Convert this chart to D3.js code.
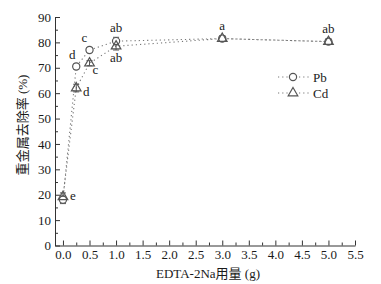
<!DOCTYPE html>
<html>
<head>
<meta charset="utf-8">
<script src="https://cdn.jsdelivr.net/npm/d3@7"></script>
<style>
body{margin:0;background:#fff;}
text{font-family:"Liberation Serif","DejaVu Serif",serif;fill:#1a1a1a;}
.cjk{font-family:"Liberation Serif","Noto Sans CJK SC",serif;}
</style>
</head>
<body>
<div id="graph"></div>
<script>
// data
var doses=[0,0.25,0.5,1,3,5];
var pb=[18,70.5,77,80.5,81.5,80.3];
var cd=[19.2,62,71.8,78.5,81.5,80.3];
var pb_err=[1.5,1,1,1.5,1,1];
var cd_err=[1.5,1.5,1,1.5,1,1];
var sig_pb=["","d","c","ab","a","ab"];
var sig_cd=["e","d","c","ab","",""];
var x_ticks=[0,0.5,1,1.5,2,2.5,3,3.5,4,4.5,5,5.5];
var y_ticks=[0,10,20,30,40,50,60,70,80,90];

function make_plot(){
	var width=381, height=284;
	var svg=d3.select("#graph").append("svg")
		.attr("width",width)
		.attr("height",height);

	var xScale=d3.scaleLinear().domain([-0.15,5.5]).range([55,355]);
	var yScale=d3.scaleLinear().domain([0,90]).range([245.5,17]);

	// axes, ticks point inward
	svg.append("g")
		.attr("transform","translate(0,"+yScale(0)+")")
		.call(d3.axisBottom(xScale).tickValues(x_ticks).tickSizeInner(-5).tickSizeOuter(0)
			.tickFormat(d3.format(".1f")).tickPadding(4));
	svg.append("g")
		.attr("transform","translate(0,"+yScale(0)+")")
		.call(d3.axisBottom(xScale).tickValues(d3.range(0.25,5.5,0.5)).tickSizeInner(-3).tickSizeOuter(0).tickFormat(""))
		.select(".domain").remove();
	svg.append("g")
		.attr("transform","translate("+xScale(-0.15)+",0)")
		.call(d3.axisLeft(yScale).tickValues(y_ticks).tickSizeInner(-5).tickSizeOuter(0).tickPadding(4));
	svg.append("g")
		.attr("transform","translate("+xScale(-0.15)+",0)")
		.call(d3.axisLeft(yScale).tickValues(d3.range(5,90,10)).tickSizeInner(-3).tickSizeOuter(0).tickFormat(""))
		.select(".domain").remove();
	svg.selectAll(".domain,.tick line").attr("stroke","#333");
	svg.selectAll(".tick text")
		.style("font-family","'Liberation Serif',serif")
		.style("font-size","13px")
		.style("fill","#1a1a1a");

	// lines
	var line=d3.line()
		.x(function(d,i){return xScale(doses[i]);})
		.y(function(d){return yScale(d);});
	[pb,cd].forEach(function(s){
		svg.append("path")
			.datum(s)
			.attr("d",line)
			.attr("fill","none")
			.attr("stroke","#777")
			.attr("stroke-width",1.1)
			.attr("stroke-dasharray","1.2,3");
	});

	// error bars
	function errbars(s,e){
		s.forEach(function(v,i){
			var cx=xScale(doses[i]);
			svg.append("line").attr("x1",cx).attr("x2",cx)
				.attr("y1",yScale(v-e[i])).attr("y2",yScale(v+e[i])).attr("stroke","#555");
			[v-e[i],v+e[i]].forEach(function(w){
				svg.append("line").attr("x1",cx-3).attr("x2",cx+3)
					.attr("y1",yScale(w)).attr("y2",yScale(w)).attr("stroke","#555");
			});
		});
	}
	errbars(pb,pb_err);
	errbars(cd,cd_err);

	var tri=d3.symbol().type(d3.symbolTriangle).size(40);
	svg.selectAll(".pb").data(pb).enter().append("circle")
		.attr("cx",function(d,i){return xScale(doses[i]);})
		.attr("cy",function(d){return yScale(d);})
		.attr("r",3.6).attr("fill","#fff").attr("stroke","#555").attr("stroke-width",1.2);
	svg.selectAll(".cd").data(cd).enter().append("path")
		.attr("d",tri)
		.attr("transform",function(d,i){return "translate("+xScale(doses[i])+","+yScale(d)+")";})
		.attr("fill","none").attr("stroke","#555").attr("stroke-width",1.2);

	// significance letters
	var pb_off=[[0,0],[-4,-8],[-5,-8],[0,-9],[0,-9],[0,-9]];
	var cd_off=[[10,3],[10,8],[6,11],[0,16],[0,0],[0,0]];
	sig_pb.forEach(function(t,i){
		if(!t)return;
		svg.append("text").attr("x",xScale(doses[i])+pb_off[i][0]).attr("y",yScale(pb[i])+pb_off[i][1])
			.attr("text-anchor","middle").attr("font-size",13).text(t);
	});
	sig_cd.forEach(function(t,i){
		if(!t)return;
		svg.append("text").attr("x",xScale(doses[i])+cd_off[i][0]).attr("y",yScale(cd[i])+cd_off[i][1])
			.attr("text-anchor","middle").attr("font-size",13).text(t);
	});

	// legend
	var leg=[["Pb","c"],["Cd","t"]];
	leg.forEach(function(l,i){
		var y=77+i*16;
		svg.append("line").attr("x1",278).attr("x2",309).attr("y1",y).attr("y2",y)
			.attr("stroke","#777").attr("stroke-width",1.1).attr("stroke-dasharray","1.2,3");
		if(l[1]=="c"){
			svg.append("circle").attr("cx",293).attr("cy",y).attr("r",3.6)
				.attr("fill","#fff").attr("stroke","#555").attr("stroke-width",1.2);
		}else{
			svg.append("path").attr("d",tri).attr("transform","translate(293,"+y+")")
				.attr("fill","#fff").attr("stroke","#555").attr("stroke-width",1.2);
		}
		svg.append("text").attr("x",313).attr("y",y+5).attr("font-size",13).text(l[0]);
	});

	// axis titles
	svg.append("text")
		.attr("class","cjk")
		.attr("transform","translate(27,125) rotate(-90)")
		.attr("text-anchor","middle")
		.attr("font-size",13)
		.text("重金属去除率 (%)");
	svg.append("text")
		.attr("class","cjk")
		.attr("x",208).attr("y",278)
		.attr("text-anchor","middle")
		.attr("font-size",13)
		.text("EDTA-2Na用量 (g)");
}
make_plot();
</script>
</body>
</html>
